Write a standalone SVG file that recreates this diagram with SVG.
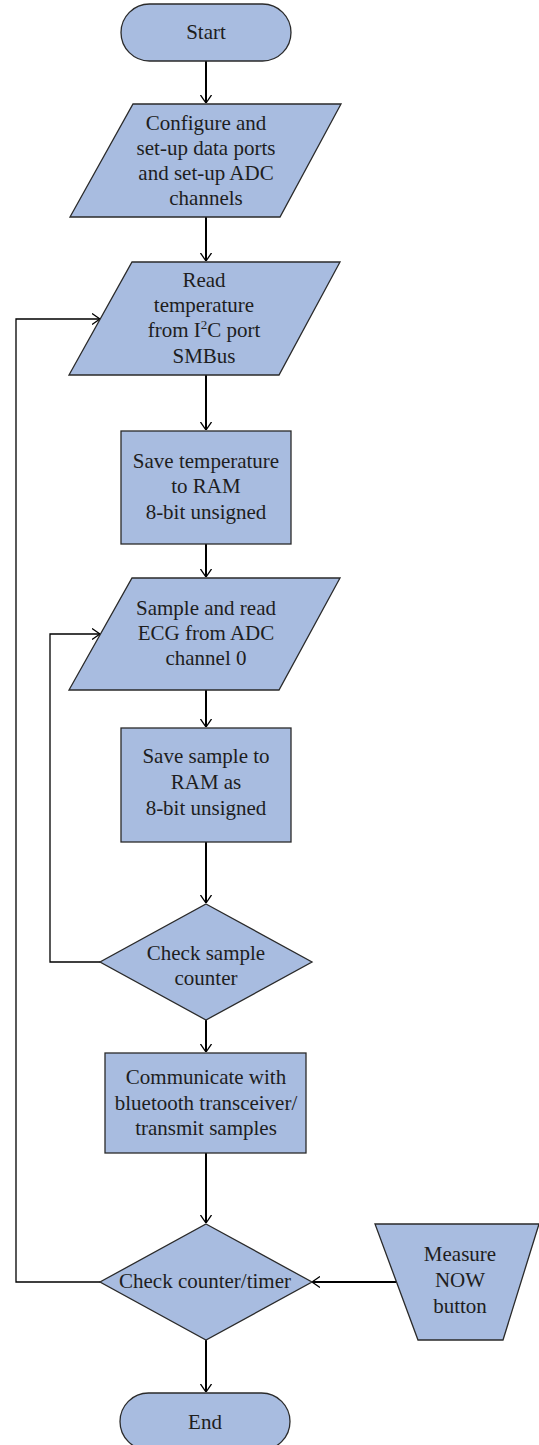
<svg xmlns="http://www.w3.org/2000/svg" width="539" height="1445" viewBox="0 0 539 1445">
<style>
.n{fill:#a8bce0;stroke:#2a2a2a;stroke-width:1.3}
.t{font-family:"Liberation Serif","Times New Roman",serif;font-size:21px;fill:#1e1e1e;text-anchor:middle}
.m{fill:none;stroke:#000;stroke-width:2}
.f{fill:none;stroke:#000;stroke-width:1.3}
</style>
<defs>
<marker id="ah" viewBox="0 0 8 12" markerWidth="8" markerHeight="12" refX="8" refY="6" orient="auto" markerUnits="userSpaceOnUse">
<path d="M0,0.5 L8,6 L0,11.5" fill="none" stroke="#000" stroke-width="1.3"/>
</marker>
</defs>
<g id="connectors">
<path class="m" d="M206,61 V103" marker-end="url(#ah)"/>
<path class="m" d="M206,217 V261" marker-end="url(#ah)"/>
<path class="m" d="M206,375 V430" marker-end="url(#ah)"/>
<path class="m" d="M206,544 V577" marker-end="url(#ah)"/>
<path class="m" d="M206,690 V727" marker-end="url(#ah)"/>
<path class="m" d="M206,842 V903" marker-end="url(#ah)"/>
<path class="m" d="M206,1020 V1052" marker-end="url(#ah)"/>
<path class="m" d="M206,1153 V1223" marker-end="url(#ah)"/>
<path class="m" d="M206,1340 V1392" marker-end="url(#ah)"/>
<path class="f" d="M100,1282 H16 V319 H100" marker-end="url(#ah)"/>
<path class="f" d="M100,962 H50 V634 H100" marker-end="url(#ah)"/>
<path class="m" d="M396,1282 H312" marker-end="url(#ah)"/>
</g>
<g id="start">
<rect class="n" x="121" y="4" width="170" height="57" rx="28.5"/>
<text class="t" x="206" y="39">Start</text>
</g>
<g id="configure">
<polygon class="n" points="133,104 341,104 280,217 70,217"/>
<text class="t" x="206" y="130">Configure and</text>
<text class="t" x="206" y="155">set-up data ports</text>
<text class="t" x="206" y="180">and set-up ADC</text>
<text class="t" x="206" y="205">channels</text>
</g>
<g id="read-temp">
<polygon class="n" points="132,262 340,262 279,375 69,375"/>
<text class="t" x="204" y="287">Read</text>
<text class="t" x="204" y="312">temperature</text>
<text class="t" x="204" y="337">from I<tspan font-size="13" dy="-8">2</tspan><tspan dy="8">C port</tspan></text>
<text class="t" x="204" y="363">SMBus</text>
</g>
<g id="save-temp">
<rect class="n" x="121" y="431" width="170" height="113"/>
<text class="t" x="206" y="468">Save temperature</text>
<text class="t" x="206" y="493">to RAM</text>
<text class="t" x="206" y="519">8-bit unsigned</text>
</g>
<g id="sample-ecg">
<polygon class="n" points="132,578 340,578 279,690 69,690"/>
<text class="t" x="206" y="615">Sample and read</text>
<text class="t" x="206" y="640">ECG from ADC</text>
<text class="t" x="206" y="665">channel 0</text>
</g>
<g id="save-sample">
<rect class="n" x="121" y="728" width="170" height="114"/>
<text class="t" x="206" y="763">Save sample to</text>
<text class="t" x="206" y="789">RAM as</text>
<text class="t" x="206" y="815">8-bit unsigned</text>
</g>
<g id="check-sample">
<polygon class="n" points="206,904 312,962 206,1020 100,962"/>
<text class="t" x="206" y="960">Check sample</text>
<text class="t" x="206" y="985">counter</text>
</g>
<g id="communicate">
<rect class="n" x="105" y="1053" width="201" height="100"/>
<text class="t" x="206" y="1084">Communicate with</text>
<text class="t" x="206" y="1110">bluetooth transceiver/</text>
<text class="t" x="206" y="1135">transmit samples</text>
</g>
<g id="check-timer">
<polygon class="n" points="206,1224 312,1282 206,1340 100,1282"/>
<text class="t" x="205" y="1288">Check counter/timer</text>
</g>
<g id="measure-now">
<polygon class="n" points="375,1224 539,1224 503,1340 418,1340"/>
<text class="t" x="460" y="1261">Measure</text>
<text class="t" x="460" y="1287">NOW</text>
<text class="t" x="460" y="1313">button</text>
</g>
<g id="end">
<rect class="n" x="120" y="1393" width="170" height="57" rx="28.5"/>
<text class="t" x="205" y="1429">End</text>
</g>
</svg>
